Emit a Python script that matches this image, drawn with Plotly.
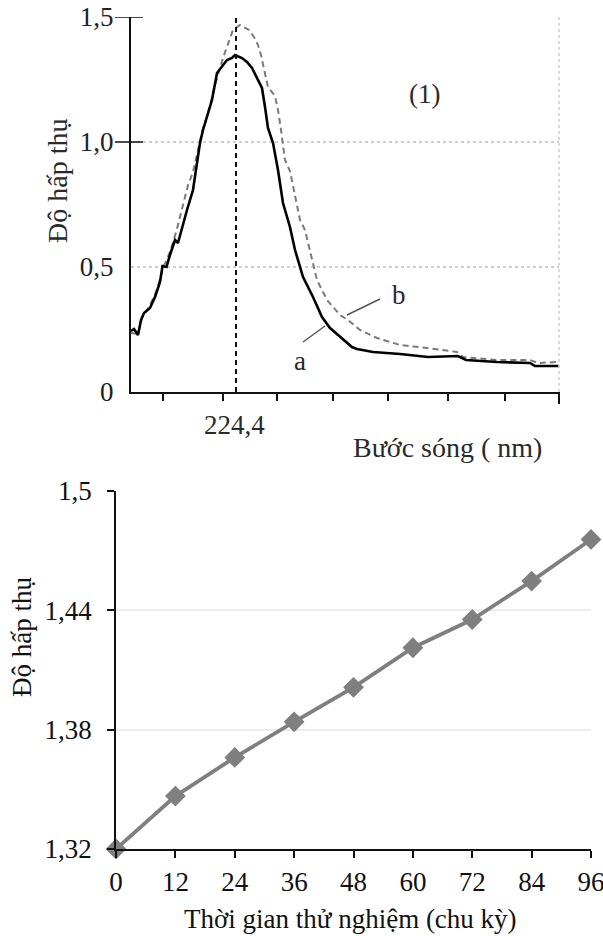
import plotly.graph_objects as go

W, H = 603, 936

# ---------------- data: chart (1) absorption spectra ----------------
wl_a = [205.65, 206.19, 206.90, 207.44, 207.97, 209.04, 209.94, 210.83, 211.28, 211.99,
        212.61, 213.51, 214.04, 214.76, 215.65, 216.72, 217.44, 217.97, 218.51, 218.86,
        220.11, 221.01, 221.90, 222.79, 223.69, 224.22, 225.47, 226.36, 227.26, 228.15,
        229.04, 229.58, 230.11, 231.01, 231.90, 232.79, 234.04, 234.94, 236.37, 238.15,
        239.76, 241.19, 242.97, 245.11, 246.01, 248.86, 253.69, 258.69, 264.04, 265.47,
        271.01, 276.90, 277.79, 282.08]
abs_a = [0.244, 0.252, 0.228, 0.288, 0.316, 0.336, 0.380, 0.440, 0.504, 0.500,
         0.548, 0.608, 0.596, 0.660, 0.728, 0.808, 0.928, 0.996, 1.048, 1.076,
         1.168, 1.276, 1.300, 1.328, 1.336, 1.348, 1.336, 1.320, 1.296, 1.256,
         1.216, 1.140, 1.056, 0.996, 0.888, 0.756, 0.660, 0.568, 0.460, 0.380,
         0.300, 0.256, 0.220, 0.180, 0.172, 0.160, 0.152, 0.140, 0.144, 0.128,
         0.120, 0.116, 0.104, 0.104]

wl_b = [205.65, 206.90, 207.61, 209.04, 210.29, 211.36, 212.61, 213.71, 214.94, 215.83,
        216.72, 217.61, 218.51, 219.22, 220.11, 221.01, 222.08, 222.97, 223.86, 225.11,
        225.83, 226.72, 227.61, 228.33, 228.86, 229.40, 230.11, 231.36, 231.90, 232.44,
        233.15, 234.04, 234.94, 235.83, 236.72, 237.61, 238.86, 240.65, 242.97, 244.40,
        246.54, 249.58, 253.69, 258.51, 260.83, 263.86, 264.94, 271.01, 276.90, 278.33,
        281.72]
abs_b = [0.236, 0.232, 0.296, 0.348, 0.408, 0.496, 0.560, 0.640, 0.748, 0.828,
         0.880, 0.968, 1.056, 1.100, 1.180, 1.256, 1.336, 1.396, 1.448, 1.468,
         1.460, 1.448, 1.420, 1.388, 1.348, 1.288, 1.220, 1.184, 1.128, 1.048,
         0.928, 0.884, 0.780, 0.688, 0.648, 0.560, 0.448, 0.368, 0.308, 0.288,
         0.248, 0.216, 0.188, 0.176, 0.168, 0.160, 0.140, 0.128, 0.128, 0.116,
         0.120]

peak_wl = 224.4
peak_label = "224,4"
wl_range = [205.65, 282.08]
tick_wl = [211.36, 222.08, 231.72, 241.72, 251.54, 262.26, 272.44]
abs_ticks = [0, 0.5, 1.0, 1.5]
abs_ticktext = ["0", "0,5", "1,0", "1,5"]

# ---------------- data: chart (2) absorbance vs. cycles ----------------
cycles = [0, 12, 24, 36, 48, 60, 72, 84, 96]
absorb = [1.320, 1.3466, 1.366, 1.3839, 1.4012, 1.4211, 1.4353, 1.4546, 1.4755]
abs2_ticks = [1.32, 1.38, 1.44, 1.5]
abs2_ticktext = ["1,32", "1,38", "1,44", "1,5"]

FONT = "Liberation Serif"


def px(x):
    return x / W


def py(y):
    return 1 - y / H


fig = go.Figure()

fig.add_trace(go.Scatter(x=wl_b, y=abs_b, mode="lines", xaxis="x", yaxis="y",
                         line=dict(color="#7a7a7a", width=2, dash="6px,4px"),
                         showlegend=False))
fig.add_trace(go.Scatter(x=wl_a, y=abs_a, mode="lines", xaxis="x", yaxis="y",
                         line=dict(color="#000000", width=2.6),
                         showlegend=False))

fig.add_trace(go.Scatter(x=cycles, y=absorb, mode="lines+markers", xaxis="x2", yaxis="y2",
                         line=dict(color="#7f7f7f", width=3.8),
                         marker=dict(symbol="diamond", size=16, color="#7f7f7f"),
                         cliponaxis=False, showlegend=False))

top_x0, top_x1, top_y0, top_y1 = 131, 559, 392, 17
bot_x0, bot_x1, bot_y0, bot_y1 = 116, 591, 849, 490.7

fig.update_layout(
    width=W, height=H,
    margin=dict(l=0, r=0, t=0, b=0, autoexpand=False),
    paper_bgcolor="white", plot_bgcolor="white",
    font=dict(family=FONT, color="#1a1a1a", size=26),
    xaxis=dict(domain=[px(top_x0), px(top_x1)], range=wl_range, anchor="y",
               automargin=False,
               showline=True, linecolor="#111111", linewidth=2,
               ticks="outside", ticklen=7, tickwidth=1.5, tickcolor="#111111",
               tickvals=tick_wl, showticklabels=False, showgrid=False, zeroline=False),
    yaxis=dict(domain=[py(top_y0), py(top_y1)], range=[0, 1.5], anchor="x",
               automargin=False,
               showline=True, linecolor="#111111", linewidth=2,
               tickvals=abs_ticks, ticktext=abs_ticktext, ticks="",
               ticklabelstandoff=10, ticklabeloverflow="allow",
               tickfont=dict(family=FONT, size=27, color="#222222"),
               showgrid=True, gridcolor="#cfcfcf", griddash="dot", gridwidth=1.5,
               zeroline=False),
    xaxis2=dict(domain=[px(bot_x0), px(bot_x1)], range=[0, 96], anchor="y2",
                automargin=False,
                showline=True, linecolor="#111111", linewidth=1.5,
                ticks="outside", ticklen=7, tickwidth=1.5, tickcolor="#111111",
                tickvals=cycles, ticktext=[str(c) for c in cycles],
                ticklabelstandoff=1, ticklabeloverflow="allow",
                tickfont=dict(family=FONT, size=27, color="#111111"),
                showgrid=False, zeroline=False),
    yaxis2=dict(domain=[py(bot_y0), py(bot_y1)], range=[1.32, 1.5], anchor="x2",
                automargin=False,
                showline=True, linecolor="#111111", linewidth=1.5,
                ticks="outside", ticklen=7, tickwidth=1.5, tickcolor="#111111",
                tickvals=abs2_ticks, ticktext=abs2_ticktext,
                ticklabelstandoff=10, ticklabeloverflow="allow",
                tickfont=dict(family=FONT, size=27, color="#111111"),
                showgrid=True, gridcolor="#ececec", gridwidth=1.5, zeroline=False),
)

shapes = [
    # vertical dashed marker at the absorption peak
    dict(type="line", xref="x", yref="y", x0=peak_wl, x1=peak_wl, y0=0, y1=1.5,
         line=dict(color="#111111", width=2, dash="5px,4px"), layer="above"),
    # dotted right border
    dict(type="line", xref="x domain", yref="y domain", x0=1, x1=1, y0=0, y1=1,
         line=dict(color="#cfcfcf", width=1.5, dash="dot")),
    # longer end tick
    dict(type="line", xref="x domain", yref="y domain", x0=1, x1=1, y0=0, y1=-12 / 375,
         line=dict(color="#111111", width=2)),
    # crossing ticks on left axis at 1.0 and 1.5
    dict(type="line", xref="x domain", yref="y", x0=-16 / 428, x1=12 / 428, y0=1.0, y1=1.0,
         line=dict(color="#111111", width=1.5)),
    dict(type="line", xref="x domain", yref="y", x0=-16 / 428, x1=12 / 428, y0=1.5, y1=1.5,
         line=dict(color="#111111", width=1.5)),
    # leader lines for a and b
    dict(type="line", xref="paper", yref="paper", x0=px(303), y0=py(342), x1=px(325), y1=py(326),
         line=dict(color="#555555", width=1.5)),
    dict(type="line", xref="paper", yref="paper", x0=px(347), y0=py(315), x1=px(380), y1=py(299),
         line=dict(color="#555555", width=1.5)),
]
fig.update_layout(shapes=shapes)


def ann(text, x, y, size=26, angle=0, color="#1a1a1a"):
    return dict(text=text, x=px(x), y=py(y), xref="paper", yref="paper",
                showarrow=False, textangle=angle, xanchor="center", yanchor="middle",
                font=dict(family=FONT, size=size, color=color))


fig.update_layout(annotations=[
    ann("Độ hấp thụ", 58, 181, size=28, angle=-90, color="#2a2a2a"),
    ann(peak_label, 234, 425, size=27, color="#2a2a2a"),
    ann("Bước sóng ( nm)", 447, 447, size=28, color="#2a2a2a"),
    ann("(1)", 424, 94, size=27, color="#2a2a2a"),
    ann("a", 300, 361, size=27, color="#2a2a2a"),
    ann("b", 399, 295, size=27, color="#2a2a2a"),
    ann("Độ hấp thụ", 22, 637, size=27, angle=-90, color="#111111"),
    ann("Thời gian thử nghiệm (chu kỳ)", 350, 919, size=27, color="#111111"),
])

fig.write_html("out.html")
